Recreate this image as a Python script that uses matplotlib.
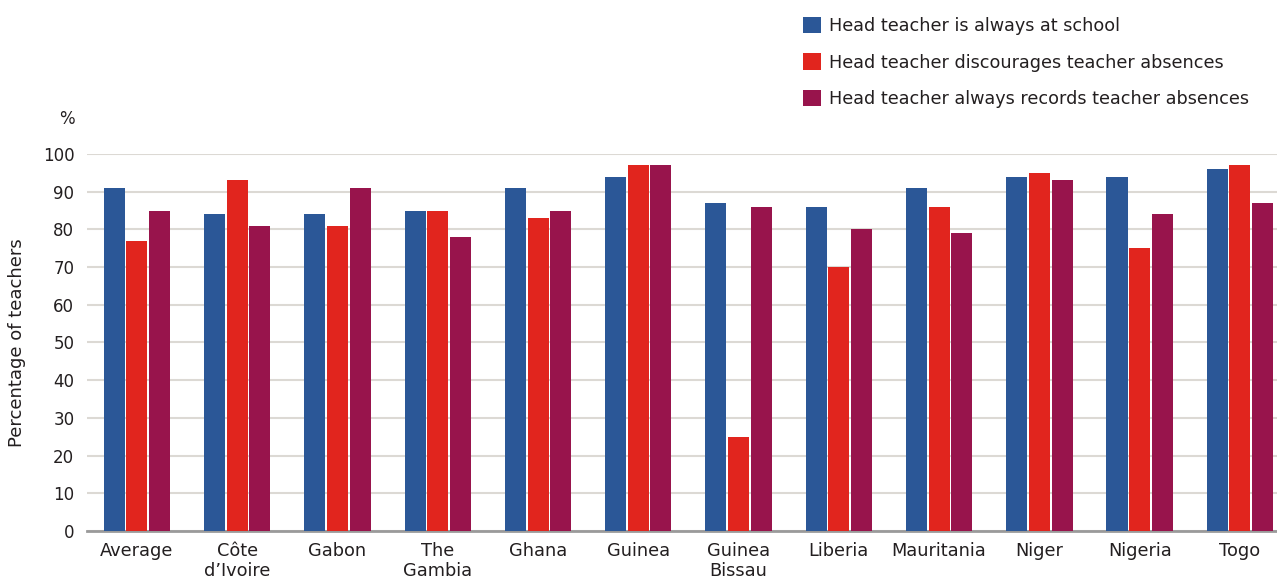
import matplotlib
matplotlib.use("Agg")
import matplotlib.pyplot as plt
import numpy as np

plt.rcParams['font.family'] = ['DejaVu Sans']

# Data
countries = ["Average", "Côte\nd’Ivoire", "Gabon", "The\nGambia", "Ghana", "Guinea",
             "Guinea\nBissau", "Liberia", "Mauritania", "Niger", "Nigeria", "Togo"]
always_at_school = [91, 84, 84, 85, 91, 94, 87, 86, 91, 94, 94, 96]
discourages_absences = [77, 93, 81, 85, 83, 97, 25, 70, 86, 95, 75, 97]
records_absences = [85, 81, 91, 78, 85, 97, 86, 80, 79, 93, 84, 87]
series_names = ["Head teacher is always at school",
                "Head teacher discourages teacher absences",
                "Head teacher always records teacher absences"]
colors = ["#2b5797", "#e1251e", "#98144c"]
txt = "#231f20"

fig = plt.figure(figsize=(12.77, 5.8), dpi=100)
ax = fig.add_axes([0.068, 0.0845, 0.932, 0.65])

x = np.arange(len(countries))
width = 0.21
step = 0.226
handles = []
for i, (vals, name, c) in enumerate(zip([always_at_school, discourages_absences, records_absences],
                                        series_names, colors)):
    b = ax.bar(x + (i - 1) * step, vals, width, color=c, label=name, zorder=3)
    handles.append(b)

ax.set_ylim(0, 100)
ax.set_xlim(-0.5, 11.37)
ax.set_yticks(range(0, 101, 10))
ax.yaxis.grid(True, color="#dcd9d4", linewidth=1.5, zorder=0)
ax.set_axisbelow(True)
for s in ["top", "right", "left"]:
    ax.spines[s].set_visible(False)
ax.spines["bottom"].set_color("#9a9a9a")
ax.spines["bottom"].set_linewidth(2)
ax.tick_params(axis="both", length=0, colors=txt)
ax.tick_params(axis="y", pad=9, labelsize=12)
ax.tick_params(axis="x", pad=8, labelsize=12.8)
ax.set_xticks(x)
ax.set_xticklabels(countries, linespacing=1.1)

ax.set_ylabel("Percentage of teachers", fontsize=13, color=txt)
ax.yaxis.set_label_coords(-0.051, 0.5)
fig.text(0.046, 0.795, "%", fontsize=12, color=txt, ha="left", va="center")

fig.legend(handles=handles, loc="upper left", bbox_to_anchor=(0.616, 1.0),
           frameon=False, fontsize=12.7, handlelength=1.02, handleheight=1.02,
           handletextpad=0.45, labelspacing=1.06, labelcolor=txt, borderpad=0.45)

fig.savefig("out.png", dpi=100)
